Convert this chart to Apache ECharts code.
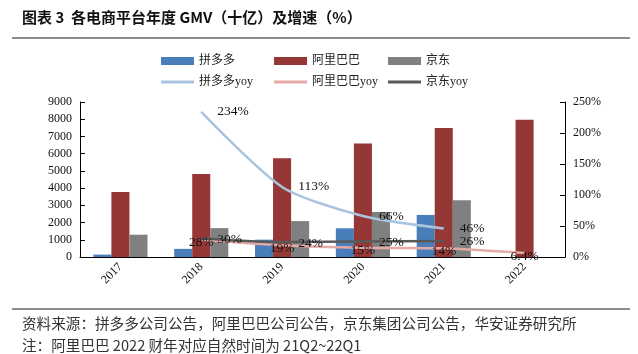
<!DOCTYPE html>
<html><head><meta charset="utf-8">
<script src="https://cdn.jsdelivr.net/npm/echarts@6/dist/echarts.min.js"></script>
<style>html,body{margin:0;padding:0;background:#fff}#c{width:638px;height:354px}</style>
</head><body><div id="c"></div>
<script>
const categories = ['2017','2018','2019','2020','2021','2022'];
const pddGMV = [140, 471, 1006, 1667, 2441, null];
const aliGMV = [3767, 4820, 5727, 6589, 7497, 7976];
const jdGMV = [1294, 1677, 2085, 2612, 3297, null];
const pddYoy = [null, 234, 113, 66, 46, null];
const aliYoy = [null, 28, 19, 15, 14, 6.4];
const jdYoy = [null, 30, 24, 25, 26, null];

const serif = '"Liberation Serif","Times New Roman",serif';
const cjk = '"Liberation Serif","Noto Sans CJK SC",serif';
const chart = echarts.init(document.getElementById('c'));
const lbl = (pos) => ({show:true, position:pos, distance:4, color:'#111', fontFamily:serif, fontSize:13.5,
  formatter: p => (p.value==null?'':p.value+'%')});
function legendItem(name, left, top, isLine){
  return {data:[{name:name, icon:'rect'}], left:left, top:top, itemWidth:33, itemHeight: isLine?3:8, itemGap:0,
    textStyle:{fontFamily:cjk, fontSize:12, color:'#222'}, selectedMode:false};
}
chart.setOption({
  animation:false,
  legend:[
    legendItem('拼多多',156,50,false), legendItem('阿里巴巴',269,50,false), legendItem('京东',383,50,false),
    legendItem('拼多多yoy',156,71,true), legendItem('阿里巴巴yoy',269,71,true), legendItem('京东yoy',383,71,true)
  ],
  grid:{left:80, right:73, top:102, bottom:97},
  xAxis:{type:'category', data:categories, axisLine:{lineStyle:{color:'#000'}},
    axisTick:{show:false}, axisLabel:{rotate:45, fontFamily:serif, fontSize:12, color:'#111', margin:8}},
  yAxis:[
    {type:'value', min:0, max:9000, interval:1000, splitLine:{show:false},
     axisLine:{show:true, lineStyle:{color:'#000'}}, axisTick:{show:true, inside:true, length:5, lineStyle:{color:'#000'}},
     axisLabel:{fontFamily:serif, fontSize:12, color:'#111', margin:8, formatter: v => String(v)}},
    {type:'value', min:0, max:250, interval:50, splitLine:{show:false},
     axisLine:{show:true, lineStyle:{color:'#000'}}, axisTick:{show:true, inside:true, length:5, lineStyle:{color:'#000'}},
     axisLabel:{fontFamily:serif, fontSize:12, color:'#111', margin:8, formatter:'{value}%'}}
  ],
  series:[
    {name:'拼多多', type:'bar', data:pddGMV, barGap:'0%', barCategoryGap:'33%', itemStyle:{color:'#4a7ebb'}},
    {name:'阿里巴巴', type:'bar', data:aliGMV, itemStyle:{color:'#953735'}},
    {name:'京东', type:'bar', data:jdGMV, itemStyle:{color:'#808080'}},
    {name:'拼多多yoy', type:'line', yAxisIndex:1, data:pddYoy, smooth:0.25, showSymbol:true, symbol:'circle', symbolSize:0.1,
     lineStyle:{color:'#a9c4df', width:2.5}, itemStyle:{color:'#a9c4df'}, label:Object.assign(lbl('right'),{offset:[12,0]}), z:10},
    {name:'阿里巴巴yoy', type:'line', yAxisIndex:1, data:aliYoy, smooth:0.25, showSymbol:true, symbol:'circle', symbolSize:0.1,
     lineStyle:{color:'#e5a9a8', width:2.5}, itemStyle:{color:'#e5a9a8'},
     label:Object.assign(lbl('inside'),{offset:[0,3]}), z:10},
    {name:'京东yoy', type:'line', yAxisIndex:1, data:jdYoy, smooth:0.25, showSymbol:true, symbol:'circle', symbolSize:0.1,
     lineStyle:{color:'#595959', width:2.5}, itemStyle:{color:'#595959'},
     label:Object.assign(lbl('right'),{offset:[12,1]}), z:10}
  ],
  graphic:[
    {type:'text', left:22, top:10, style:{text:'图表 3  各电商平台年度 GMV（十亿）及增速（%）', font:'bold 15px "Noto Sans CJK SC", sans-serif', fill:'#111'}},
    {type:'line', shape:{x1:12,y1:38,x2:630,y2:38}, style:{stroke:'#666', lineWidth:1.5}},
    {type:'line', shape:{x1:12,y1:309,x2:630,y2:309}, style:{stroke:'#666', lineWidth:1.5}},
    {type:'text', left:22, top:316, style:{text:'资料来源：拼多多公司公告，阿里巴巴公司公告，京东集团公司公告，华安证券研究所', font:'14.6px "Noto Sans CJK SC", sans-serif', fill:'#333'}},
    {type:'text', left:22, top:338, style:{text:'注：阿里巴巴 2022 财年对应自然时间为 21Q2~22Q1', font:'14.6px "Noto Sans CJK SC", sans-serif', fill:'#333'}}
  ]
});
</script></body></html>
